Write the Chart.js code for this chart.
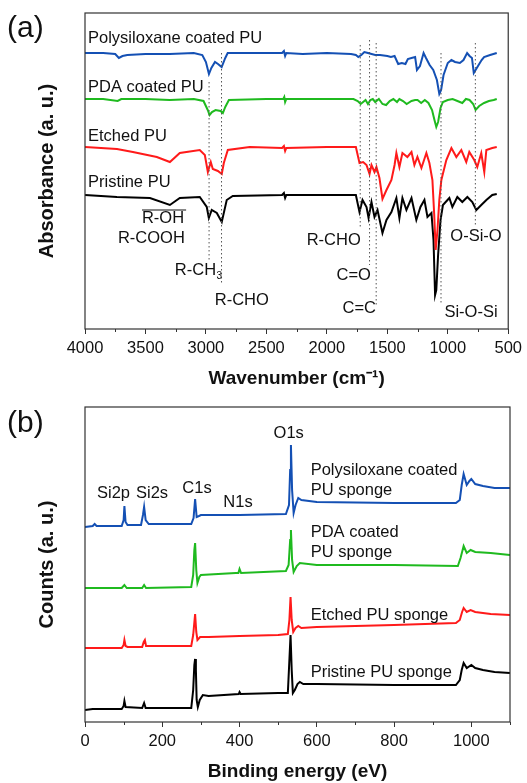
<!DOCTYPE html>
<html><head><meta charset="utf-8">
<script src="https://cdn.jsdelivr.net/npm/chart.js@4.4.1/dist/chart.umd.min.js"></script>
<style>
html,body{margin:0;padding:0;background:#fff;}
#wrap{position:relative;width:527px;height:783px;overflow:hidden;}
canvas{position:absolute;left:0;}
#ca{top:0}
#cb{top:392px}
</style></head><body>
<div id="wrap"><canvas id="ca" width="527" height="392"></canvas><canvas id="cb" width="527" height="391"></canvas></div>
<script>
// ---------- (a) FTIR data ----------
const ftirTicks = [4000,3500,3000,2500,2000,1500,1000,500];
const ftirMinorTicks = [3750,3250,2750,2250,1750,1250,750];

const polyWn  = [4000,3850,3750,3720,3690,3650,3500,3300,3100,3030,3000,2975,2955,2925,2900,2870,2840,2820,2500,2370,2355,2345,2335,2200,2000,1800,1760,1740,1715,1690,1660,1630,1600,1560,1500,1470,1440,1410,1380,1350,1330,1300,1270,1255,1230,1200,1180,1150,1120,1090,1070,1055,1035,1000,970,940,900,870,840,820,800,785,760,740,720,700,650,595];
const polyAbs = [276,276,275,271,273,274,275,275,276,274,267,255,261,267,265,262,271,276,276,276,278,273,276,275,276,275,274,272,274,277,276,275,274,274,273,272,273,265,266,265,270,271,272,259,263,276,271,264,259,249,235,239,254,266,269,267,266,269,276,273,271,256,261,265,269,272,274,276];

const pdaWn  = [4000,3850,3730,3700,3500,3300,3100,3020,2985,2970,2950,2920,2880,2860,2840,2810,2500,2360,2352,2345,2335,2000,1780,1745,1720,1700,1680,1660,1640,1620,1600,1570,1540,1510,1480,1450,1420,1400,1370,1340,1300,1270,1250,1220,1190,1160,1130,1110,1095,1080,1060,1040,1000,960,920,880,850,820,790,770,740,700,660,620,595];
const pdaAbs = [230,230,228,230,230,229,230,228,219,214,217,219,218,216,222,229,230,230,232,227,230,230,230,228,225,227,229,225,229,230,227,230,225,224,228,230,227,230,228,225,228,229,229,226,229,226,219,209,202,207,221,227,229,230,228,226,230,229,225,219,223,226,228,229,230];

const etchedWn  = [4000,3736,3604,3406,3298,3216,3051,3009,2984,2960,2943,2901,2869,2852,2819,2638,2370,2355,2345,2335,2000,1760,1730,1700,1672,1647,1631,1606,1590,1565,1540,1507,1466,1440,1425,1400,1375,1334,1300,1276,1251,1218,1177,1152,1127,1112,1100,1085,1070,1053,1012,970,929,888,847,822,781,756,723,698,681,632,595];
const etchedAbs = [182,180,177,172,167,176,179,174,157,167,160,158,155,166,179,182,181,183,178,181,182,182,166,167,164,155,164,157,162,151,130,139,149,164,176,162,176,172,177,164,172,161,176,166,149,114,79,99,129,149,169,181,172,179,167,177,169,162,176,157,179,181,182];

const pristineWn  = [4000,3736,3463,3298,3216,3051,2993,2976,2952,2910,2869,2828,2778,2370,2355,2345,2335,2000,1760,1730,1705,1672,1655,1631,1606,1581,1540,1507,1466,1425,1400,1375,1342,1300,1260,1226,1193,1168,1135,1118,1105,1095,1080,1060,1040,987,962,921,880,838,797,764,723,681,632,595];
const pristineAbs = [134,132,131,124,131,132,122,111,119,116,107,129,133,134,136,131,134,134,134,117,129,122,111,127,112,119,96,109,117,131,111,131,119,131,109,122,129,112,116,89,34,39,74,109,124,131,122,132,127,132,127,119,124,129,134,135];

// band marker lines (wavenumber, top, bottom in a.u.)
const bandWn     = [2974,2871,1724,1647,1592,1056,772];
const bandTop    = [247,276,284,289,286,276,286];
const bandBottom = [67,44,101,64,24,24,103];

// ---------- (b) XPS data ----------
const xpsTicks = [0,200,400,600,800,1000];
const xpsMinorTicks = [100,300,500,700,900,1100];

const polyBE  = [0,20,25,30,95,100,102,105,110,145,150,153,157,165,275,281,285,289,295,300,400,520,528,531,533,536,540,545,552,560,600,800,960,970,975,980,988,995,1000,1010,1030,1060,1100];
const polyCts = [195,196,198,196,196,202,216,200,197,197,207,215,202,198,198,204,223,205,206,207,207,208,217,252,277,232,209,217,224,222,220,219,219,222,237,248,237,241,243,238,236,234,234];

const pdaBE  = [0,95,102,108,148,153,158,275,280,283,285,288,291,296,300,390,397,400,404,520,527,531,533,536,540,548,556,600,800,965,972,980,988,998,1010,1050,1100];
const pdaCts = [134,134,137,134,134,137,134,135,147,172,179,152,139,145,147,149,149,153,149,151,157,182,192,162,150,156,159,157,157,156,164,176,169,172,170,169,167];

const etchedBE  = [0,95,100,102,105,110,148,152,155,158,275,280,285,288,291,298,320,400,500,525,529,532,535,539,545,552,560,600,800,960,970,976,980,988,998,1010,1050,1100];
const etchedCts = [74,74,77,82,76,75,75,80,82,76,76,87,108,90,82,85,85,86,87,88,102,125,102,90,94,96,94,95,97,99,102,110,114,110,112,110,108,107];

const pristineBE  = [0,20,95,100,102,105,148,153,157,275,280,283,285,287,289,292,297,305,320,398,400,403,500,525,529,532,535,538,543,550,556,565,600,800,960,970,975,980,988,1000,1010,1030,1060,1100];
const pristineCts = [12,13,13,16,21,15,14,19,14,14,32,57,63,52,22,15,22,27,26,28,30,28,29,29,62,87,52,29,32,38,40,38,38,37,37,42,52,59,54,57,54,52,50,49];

// ---------- annotations ----------
const ftirLabelText = ['Polysiloxane coated PU','PDA coated PU','Etched PU','Pristine PU','R-OH','R-COOH','R-CH','R-CHO','R-CHO','C=O','C=C','Si-O-Si','O-Si-O'];
const ftirLabelWn   = [3975,3975,3975,3975,3529,3728,3257,2927,2167,1920,1870,1028,979];
const ftirLabelAbs  = [291,242,193,147,111,91,59,29,89,54,21,17,93];
const ftirLabelSub  = ['','','','','','','3','','','','','',''];
const ftirLabelOver = [false,false,false,false,true,false,false,false,false,false,false,false,false];

const xpsLabelText = ['O1s','Si2p','Si2s','C1s','N1s','Polysiloxane coated','PU sponge','PDA coated','PU sponge','Etched PU sponge','Pristine PU sponge'];
const xpsLabelBE   = [488,31,132,252,358,584,584,584,584,584,584];
const xpsLabelCts  = [289,229,229,234,220,252,232,190,170,107,50];
const xpsLabelSub  = ['','','','','','','','','','',''];
const xpsLabelOver = [false,false,false,false,false,false,false,false,false,false,false];

const FONT = '"Liberation Sans", Arial, Helvetica, sans-serif';
const colBlue = '#1450b4', colGreen = '#1fba1f', colRed = '#ff1a1a', colBlack = '#000000';

function pts(xs, ys){ return xs.map((v,i)=>({x:v,y:ys[i]})); }
function line(label, xs, ys, color){
  return {label, data:pts(xs,ys), borderColor:color, backgroundColor:color, borderWidth:2, pointRadius:0, tension:0, fill:false};
}

const annotPlugin = {
  id:'annot',
  afterDatasetsDraw(chart, args, o){
    const ctx = chart.ctx, a = chart.chartArea, xs = chart.scales.x, ys = chart.scales.y;
    ctx.save();
    // frame
    ctx.strokeStyle = '#333'; ctx.lineWidth = 1.2;
    ctx.strokeRect(a.left, a.top, a.right - a.left, a.bottom - a.top);
    // minor ticks
    ctx.lineWidth = 1;
    o.minor.forEach(v=>{
      const px = Math.round(xs.getPixelForValue(v)) + 0.5;
      ctx.beginPath(); ctx.moveTo(px, a.bottom); ctx.lineTo(px, a.bottom + 3); ctx.stroke();
    });
    // labels
    ctx.fillStyle = '#111';
    ctx.textBaseline = 'middle'; ctx.textAlign = 'left';
    o.text.forEach((t,i)=>{
      const px = xs.getPixelForValue(o.lx[i]), py = ys.getPixelForValue(o.ly[i]);
      ctx.font = '16.5px ' + FONT;
      ctx.fillText(t, px, py);
      const w = ctx.measureText(t).width;
      if (o.sub[i]) { ctx.font = '10px ' + FONT; ctx.fillText(o.sub[i], px + w + 0.5, py + 6); }
      if (o.over[i]) {
        ctx.strokeStyle = '#111'; ctx.lineWidth = 1.2;
        ctx.beginPath(); ctx.moveTo(px, py - 8); ctx.lineTo(px + w + 2, py - 8); ctx.stroke();
      }
    });
    // panel tag
    ctx.font = '30px ' + FONT; ctx.fillStyle = '#111';
    ctx.fillText(o.tag, 7, o.tagY);
    ctx.restore();
  }
};

function makeOptions(cfg){
  return {
    responsive:false, animation:false,
    layout:{padding:{left:0, right:17, top:cfg.padTop, bottom:0}},
    plugins:{legend:{display:false}, tooltip:{enabled:false},
      annot:{minor:cfg.minor, text:cfg.text, lx:cfg.lx, ly:cfg.ly, sub:cfg.sub, over:cfg.over, tag:cfg.tag, tagY:cfg.tagY}},
    scales:{
      x:{type:'linear', min:cfg.xmin, max:cfg.xmax, reverse:cfg.reverse,
        afterBuildTicks:(s)=>{ s.ticks = cfg.ticks.map(v=>({value:v})); },
        afterFit:(s)=>{ s.height = cfg.xh; },
        grid:{display:true, drawOnChartArea:false, drawTicks:true, tickLength:5, color:'#333', tickWidth:1},
        border:{display:false},
        ticks:{color:'#111', font:{family:FONT, size:16.5}, padding:5, maxRotation:0, autoSkip:false, callback:(v)=>String(v)},
        title:{display:true, text:cfg.xtitle, color:'#111', font:{family:FONT, size:19, weight:'bold'}, padding:{top:0,bottom:cfg.xtPad}}
      },
      y:{type:'linear', min:0, max:cfg.ymax,
        afterFit:(s)=>{ s.width = 85; },
        grid:{display:false}, border:{display:false},
        ticks:{display:false},
        title:{display:true, text:cfg.ytitle, color:'#111', font:{family:FONT, size:20, weight:'bold'}, padding:{top:35,bottom:0}}
      }
    }
  };
}

const bandSets = bandWn.map((w,i)=>({
  label:'band'+i, data:[{x:w,y:bandTop[i]},{x:w,y:bandBottom[i]}],
  borderColor:'#555', borderWidth:1, borderDash:[1.5,2.5], pointRadius:0, fill:false
}));

new Chart(document.getElementById('ca'), {
  type:'line',
  data:{datasets:[
    ...bandSets,
    line('Polysiloxane coated PU', polyWn, polyAbs, colBlue),
    line('PDA coated PU', pdaWn, pdaAbs, colGreen),
    line('Etched PU', etchedWn, etchedAbs, colRed),
    line('Pristine PU', pristineWn, pristineAbs, colBlack)
  ]},
  options:makeOptions({padTop:13, minor:ftirMinorTicks, text:ftirLabelText, lx:ftirLabelWn, ly:ftirLabelAbs, sub:ftirLabelSub, over:ftirLabelOver,
    tag:'(a)', tagY:29, xmin:500, xmax:4000, reverse:true, ticks:ftirTicks, xh:63, xtitle:'Wavenumber (cm\u207B\u00B9)', xtPad:2,
    ymax:316, ytitle:'Absorbance (a. u.)'}),
  plugins:[annotPlugin]
});

new Chart(document.getElementById('cb'), {
  type:'line',
  data:{datasets:[
    line('Polysiloxane coated PU sponge', polyBE, polyCts, colBlue),
    line('PDA coated PU sponge', pdaBE, pdaCts, colGreen),
    line('Etched PU sponge', etchedBE, etchedCts, colRed),
    line('Pristine PU sponge', pristineBE, pristineCts, colBlack)
  ]},
  options:makeOptions({padTop:15, minor:xpsMinorTicks, text:xpsLabelText, lx:xpsLabelBE, ly:xpsLabelCts, sub:xpsLabelSub, over:xpsLabelOver,
    tag:'(b)', tagY:32, xmin:0, xmax:1100, reverse:false, ticks:xpsTicks, xh:61, xtitle:'Binding energy (eV)', xtPad:0,
    ymax:315, ytitle:'Counts (a. u.)'}),
  plugins:[annotPlugin]
});
</script>
</body></html>
